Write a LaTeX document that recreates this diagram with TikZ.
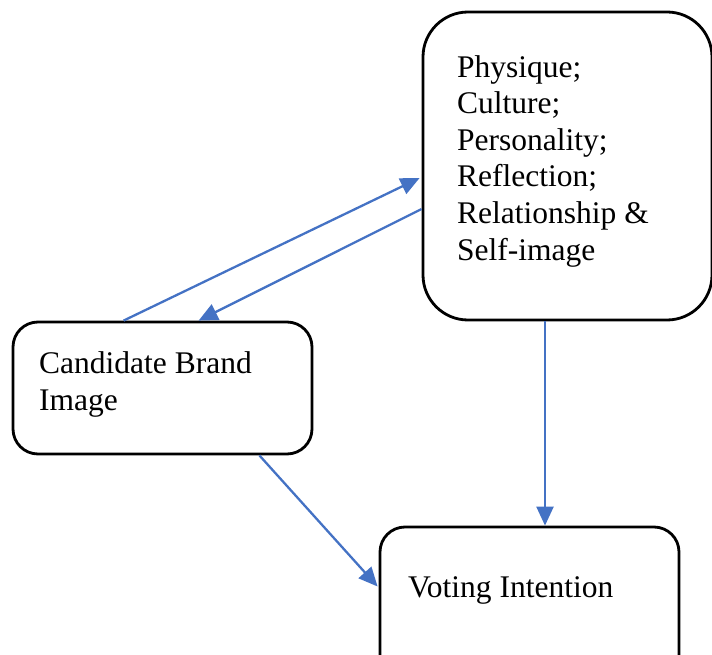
\documentclass[tikz,border=0pt]{standalone}
\usepackage{fontspec}
\setmainfont{Liberation Serif}
\usetikzlibrary{arrows.meta}
\definecolor{linkblue}{HTML}{4472C4}
\tikzset{
  box/.style={draw=black, line width=2.8pt, fill=none, inner sep=0pt},
  label/.style={anchor=base west, align=left, inner sep=0pt,
    font=\fontsize{31.5}{36.6}\selectfont},
  link/.style={draw=linkblue, line width=2.3pt,
    -{Triangle[length=19pt,width=17pt]}}
}
\begin{document}
\begin{tikzpicture}[x=1pt,y=-1pt]
\useasboundingbox (0,0) rectangle (712,655);
\clip (0,0) rectangle (712,655);
% boxes
\node[box, rounded corners=45pt, minimum width=289pt, minimum height=308pt] (dims) at (567.5,166) {};
\node[box, rounded corners=25pt, minimum width=299pt, minimum height=132pt] (cbi) at (162.5,388) {};
\node[box, rounded corners=25pt, minimum width=299pt, minimum height=156pt] (vi) at (529.5,605) {};
% texts (placed by the baseline of their last line)
\node[label] (dimstext) at (457,260) {Physique;\\Culture;\\Personality;\\Reflection;\\Relationship \&\\Self-image};
\node[label] (cbitext) at (39,410) {Candidate Brand\\Image};
\node[label] (vitext) at (408,597) {Voting Intention};
% connectors
\draw[link] ([xshift=112pt]cbi.north west) -- ([xshift=-2pt,yshift=-12pt]dims.west);
\draw[link] ([yshift=-43pt]dims.west) -- ([xshift=187pt]cbi.north west);
\draw[link] ([xshift=-22.5pt]dims.south) -- ([xshift=15.5pt]vi.north);
\draw[link] ([xshift=-54pt]cbi.south east) -- ([xshift=-1pt,yshift=18.5pt]vi.west);
\end{tikzpicture}
\end{document}
